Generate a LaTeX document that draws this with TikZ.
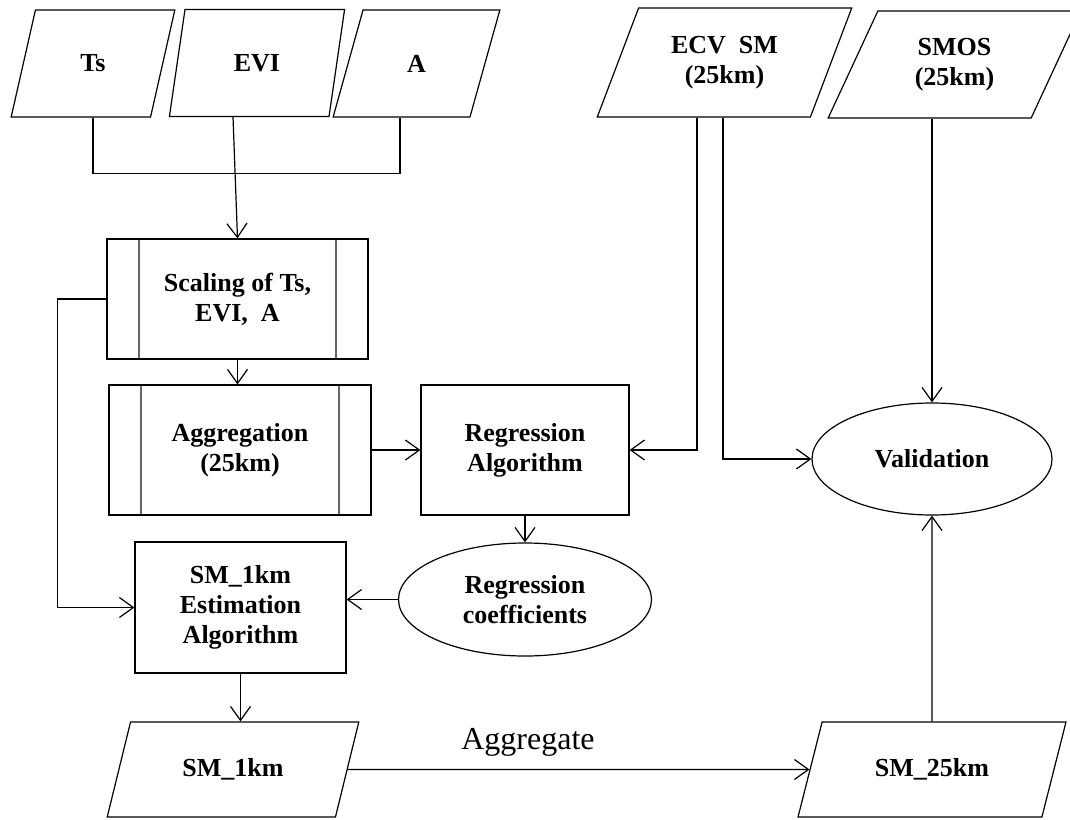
\documentclass[tikz,border=0pt]{standalone}
\usepackage{fontspec}
\setmainfont{Liberation Serif}
\usetikzlibrary{shapes.geometric,arrows.meta}

\begin{document}
\begin{tikzpicture}%
  [x=1pt, y=-1pt,
   >={Straight Barb[length=14pt,width=20pt]},
   line width=1.2pt,
   every node/.style={font=\bfseries\fontsize{26}{30}\selectfont, align=center, inner sep=0pt},
   data/.style 2 args={draw, trapezium, trapezium stretches=true,
     trapezium left angle=#1, trapezium right angle=#2},
   proc/.style={draw, rectangle,
     path picture={
       \draw[gray!80!black, line width=1.6pt]
         ([xshift=32pt]path picture bounding box.north west) -- ([xshift=32pt]path picture bounding box.south west)
         ([xshift=-32pt]path picture bounding box.north east) -- ([xshift=-32pt]path picture bounding box.south east);
     }},
  ]
\useasboundingbox (0,0) rectangle (1070,819);

\node[data={73}{107}, minimum width=164, minimum height=107] (1) at (93,63.5) {Ts};
\node[data={74}{106}, minimum width=176, minimum height=107] (2) at (257,63) {EVI};
\node[data={73}{107}, minimum width=167, minimum height=107] (3) at (416.5,63.5) {A};
\node[data={64}{116}, minimum width=255, minimum height=109] (4) at (724.5,62.5) {ECV~~SM\\(25km)};
\node[data={64}{116}, minimum width=253, minimum height=107] (5) at (954.5,64.5) {SMOS\\(25km)};
\node[proc, minimum width=261, minimum height=120] (6) at (237.5,299) {Scaling of Ts,\\EVI,~~A};
\node[proc, minimum width=262, minimum height=130] (7) at (240,450) {Aggregation\\(25km)};
\node[draw, minimum width=208, minimum height=130] (8) at (525,450) {Regression\\Algorithm};
\node[draw, ellipse, minimum width=253, minimum height=113] (9) at (525,599.5) {Regression\\coefficients};
\node[draw, minimum width=211, minimum height=131] (10) at (240.5,607.5) {SM\_1km\\Estimation\\Algorithm};
\node[draw, ellipse, minimum width=240, minimum height=112] (11) at (932,459) {Validation};
\node[data={62}{118}, minimum width=252, minimum height=95] (12) at (233,769.5) {SM\_1km};
\node[data={60}{120}, minimum width=268, minimum height=95] (13) at (932,769.5) {SM\_25km};
\node[font=\fontsize{32}{36}\selectfont] (14) at (528,742) {Aggregate};

\path[->]
%   FROM          TO
   (6.south) edge (6.south |- 7.north)
   (7)       edge (8)
   (8)       edge (9)
   (9.west)  edge (9.west -| 10.east)
   (10.south) edge (10.south |- 12.north)
   (12)      edge (13)
   (13)      edge (11)
   ;

\draw (1.south) -- ++(0,56) -| ([xshift=-16.5pt]3.south);
\draw[->] ([xshift=-24pt]2.south) -- (6.north);
\draw[->] (6.west) -- ++(-49,0) |- (10.west);
\draw[->] ([xshift=-27.5pt]4.south) |- (8.east);
\draw[->] ([xshift=-1.5pt]4.south) |- (11.west);
\draw[->] (11.north |- 5.south) -- (11.north);
\end{tikzpicture}
\end{document}
